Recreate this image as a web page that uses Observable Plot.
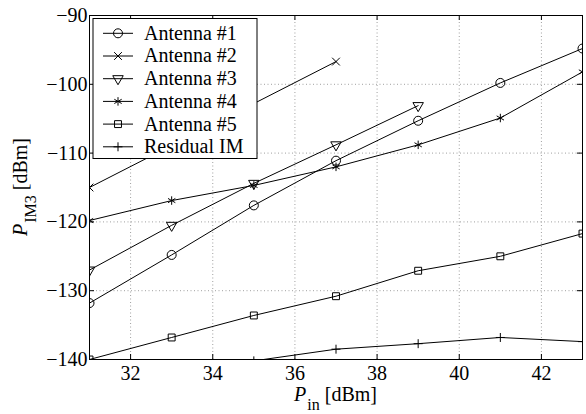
<!DOCTYPE html>
<html><head><meta charset="utf-8">
<script src="https://cdn.jsdelivr.net/npm/d3@7"></script>
<script src="https://cdn.jsdelivr.net/npm/@observablehq/plot@0.6"></script>
<style>body{margin:0;background:#fff} #chart{width:586px;height:414px} #chart svg text{font-family:'Liberation Serif','Times New Roman',serif}</style>
</head><body><div id="chart"></div>
<script>
const xTicks = [32, 34, 36, 38, 40, 42];
const yTicks = [-140, -130, -120, -110, -100, -90];
const seriesNames = ["Antenna #1", "Antenna #2", "Antenna #3", "Antenna #4", "Antenna #5", "Residual IM"];
const ant1X = [31, 33, 35, 37, 39, 41, 43];
const ant1Y = [-131.8, -124.8, -117.6, -111.1, -105.3, -99.8, -94.8];
const ant2X = [31, 37];
const ant2Y = [-115.0, -96.7];
const ant3X = [31, 33, 35, 37, 39];
const ant3Y = [-127.0, -120.5, -114.4, -108.8, -103.1];
const ant4X = [31, 33, 35, 37, 39, 41, 43];
const ant4Y = [-119.8, -116.9, -114.7, -112.0, -108.8, -104.9, -98.2];
const ant5X = [31, 33, 35, 37, 39, 41, 43];
const ant5Y = [-140.0, -136.8, -133.6, -130.8, -127.1, -125.0, -121.7];
const resX = [35, 37, 39, 41, 43];
const resY = [-140.2, -138.5, -137.7, -136.8, -137.4];

const xs = [ant1X, ant2X, ant3X, ant4X, ant5X, resX];
const ys = [ant1Y, ant2Y, ant3Y, ant4Y, ant5Y, resY];
const styles = [
  {symbol: "circle", r: 4.5, rotate: 0},
  {symbol: "times", r: 3.6, rotate: 0},
  {symbol: "triangle2", r: 5.0, rotate: 180},
  {symbol: "asterisk", r: 4.0, rotate: 0},
  {symbol: "square2", r: 4.4, rotate: 0},
  {symbol: "plus", r: 3.0, rotate: 0}
];
const series = seriesNames.map((name, i) => xs[i].map((x, j) => ({name, x, y: ys[i][j]})));

const W = 586, H = 414, mL = 89, mR = 4, mT = 15, mB = 55;
const fw = W - mL - mR, fh = H - mT - mB;
const fmt = d => String(d).replace("-", "\u2212");
const FONT = "'Liberation Serif', 'Times New Roman', serif";

const marks = [
  Plot.gridX(xTicks, {stroke: "#888", strokeOpacity: 1, strokeDasharray: "1,2.5", strokeWidth: 0.8}),
  Plot.gridY(yTicks.slice(1, -1), {stroke: "#888", strokeOpacity: 1, strokeDasharray: "1,2.5", strokeWidth: 0.8}),
];
series.forEach((data, i) => {
  marks.push(Plot.line(data, {x: "x", y: "y", stroke: "black", strokeWidth: 1, clip: true}));
  marks.push(Plot.dot(data, {x: "x", y: "y", symbol: styles[i].symbol, r: styles[i].r, rotate: styles[i].rotate, stroke: "black", strokeWidth: 1, fill: "none", clip: true}));
});
marks.push(
  Plot.tickX(xTicks, {x: d => d, insetTop: fh - 5, stroke: "black"}),
  Plot.tickX(xTicks, {x: d => d, insetBottom: fh - 5, stroke: "black"}),
  Plot.tickY(yTicks, {y: d => d, insetRight: fw - 5, stroke: "black"}),
  Plot.tickY(yTicks, {y: d => d, insetLeft: fw - 5, stroke: "black"}),
  Plot.frame({stroke: "black", strokeWidth: 1}),
  Plot.axisX(xTicks, {tickSize: 0, tickPadding: 6, tickFormat: fmt, label: null, fontFamily: FONT, fontSize: 20}),
  Plot.axisY(yTicks, {tickSize: 0, tickPadding: 2, tickFormat: fmt, label: null, fontFamily: FONT, fontSize: 20})
);

const plot = Plot.plot({
  width: W, height: H,
  marginLeft: mL, marginRight: mR, marginTop: mT, marginBottom: mB,
  x: {domain: [31, 43]},
  y: {domain: [-140, -90]},
  style: {fontFamily: FONT, fontSize: "20px", background: "white", color: "black"},
  marks
});
document.getElementById("chart").appendChild(plot);

const svg = d3.select(plot);
// axis labels
const yl = svg.append("text")
  .attr("transform", `translate(27,${mT + fh / 2}) rotate(-90)`)
  .attr("text-anchor", "middle").attr("font-size", 20).attr("font-family", FONT).attr("fill", "black");
yl.append("tspan").attr("font-style", "italic").text("P");
yl.append("tspan").attr("font-size", 16).attr("dy", 9).attr("dx", 1).text("IM3");
yl.append("tspan").attr("dy", -9).text(" [dBm]");

const xl = svg.append("text")
  .attr("transform", `translate(${mL + fw / 2},401)`)
  .attr("text-anchor", "middle").attr("font-size", 20).attr("font-family", FONT).attr("fill", "black");
xl.append("tspan").attr("font-style", "italic").text("P");
xl.append("tspan").attr("font-size", 16).attr("dy", 9).attr("dx", 1).text("in");
xl.append("tspan").attr("dy", -9).text(" [dBm]");

// legend
const lg = svg.append("g");
lg.append("rect").attr("x", 93).attr("y", 18.5).attr("width", 164).attr("height", 140)
  .attr("fill", "white").attr("stroke", "black");
const symMap = {circle: d3.symbolCircle, times: d3.symbolTimes, triangle2: d3.symbolTriangle2,
  asterisk: d3.symbolAsterisk, square2: d3.symbolSquare2, plus: d3.symbolPlus};
seriesNames.forEach((name, i) => {
  const y = 33.3 + i * 22.7;
  lg.append("line").attr("x1", 103).attr("x2", 133).attr("y1", y).attr("y2", y).attr("stroke", "black");
  const st = styles[i];
  lg.append("path").attr("d", d3.symbol(symMap[st.symbol], Math.PI * st.r * st.r)())
    .attr("transform", `translate(118,${y}) rotate(${st.rotate})`)
    .attr("fill", "none").attr("stroke", "black");
  lg.append("text").attr("x", 144).attr("y", y).attr("dy", "0.32em")
    .attr("text-anchor", "start").attr("font-family", FONT)
    .attr("font-size", 20).attr("fill", "black").text(name);
});
</script>
</body></html>
